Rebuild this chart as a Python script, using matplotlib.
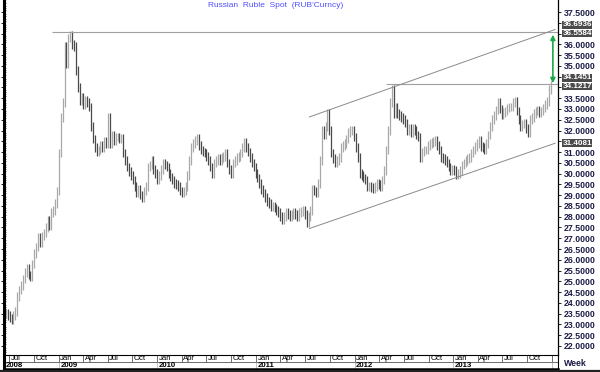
import numpy as np
import pandas as pd
import matplotlib
matplotlib.use("Agg")
import matplotlib.pyplot as plt
import matplotlib.transforms as mtransforms


# =========================================================
# DATA
# =========================================================

START_DATE = "2008-06-20"

# weekly closes
closes = [
    23.5, 23.4, 23.3, 23.2, 23.4, 23.6, 24.3, 24.6, 24.8, 25.1,
    25.4, 25.6, 25.3, 25.2, 25.8, 26.3, 26.6, 27.05, 26.8, 27.1,
    27.25, 27.5, 27.85, 27.6, 28.2, 28.3, 28.6, 29.2, 30.95, 32.6,
    33.3, 35.9, 35.1, 36.3, 36.4, 36.0, 35.9, 34.8, 34.0, 33.4,
    33.55, 33.2, 33.4, 33.3, 33.1, 32.2, 31.6, 31.2, 31.0, 31.1,
    31.3, 31.2, 31.5, 31.4, 32.6, 31.4, 31.8, 31.55, 31.7, 31.7,
    31.6, 31.65, 30.95, 30.6, 30.3, 30.1, 29.9, 29.7, 29.4, 29.1,
    29.25, 29.0, 28.9, 29.2, 29.4, 30.3, 30.4, 30.6, 30.2, 30.0,
    29.7, 29.9, 30.2, 30.5, 30.4, 30.3, 30.0, 29.85, 29.7, 29.55,
    29.5, 29.4, 29.2, 29.1, 29.2, 29.4, 29.9, 30.6, 31.2, 31.4,
    31.55, 31.65, 31.3, 31.1, 31.0, 30.95, 30.8, 30.6, 30.3, 30.0,
    30.5, 30.6, 30.7, 30.6, 30.75, 30.8, 30.95, 30.5, 30.2, 30.0,
    30.5, 30.6, 30.75, 30.8, 30.95, 31.2, 31.45, 31.2, 31.0, 30.75,
    30.5, 30.3, 30.0, 29.8, 29.55, 29.25, 29.1, 28.9, 28.7, 28.6,
    28.45, 28.5, 28.4, 28.3, 28.2, 28.0, 27.85, 28.0, 28.2, 28.1,
    28.0, 28.1, 28.2, 28.1, 28.0, 28.2, 28.25, 28.3, 28.1, 27.7,
    28.0, 28.3, 29.25, 29.2, 29.1, 29.55, 30.6, 32.0, 31.8, 32.2,
    32.8, 32.0, 30.95, 30.7, 30.5, 30.6, 30.75, 31.2, 31.3, 31.4,
    31.6, 31.9, 32.0, 32.0, 31.7, 31.2, 30.75, 30.0, 29.9, 29.8,
    29.7, 29.4, 29.4, 29.35, 29.3, 29.4, 29.55, 29.5, 29.4, 29.7,
    30.15, 31.1, 32.0, 33.3, 33.9, 32.8, 33.1, 32.8, 32.7, 32.6,
    32.5, 32.35, 32.0, 32.1, 31.9, 32.1, 32.0, 31.8, 31.7, 30.75,
    31.0, 31.1, 31.1, 31.3, 31.4, 31.45, 31.5, 31.55, 31.3, 31.1,
    30.75, 30.7, 30.6, 30.5, 30.3, 30.15, 30.2, 30.15, 29.95, 30.0,
    30.15, 30.4, 30.5, 30.6, 30.7, 30.75, 30.95, 31.1, 31.25, 31.4,
    31.55, 31.25, 31.2, 31.1, 31.4, 31.8, 32.2, 32.5, 32.7, 32.95,
    33.3, 33.0, 32.75, 32.85, 32.9, 33.05, 33.1, 33.1, 33.3, 33.35,
    32.9, 32.5, 32.2, 32.3, 32.35, 32.1, 31.9, 32.5, 32.6, 32.8,
    32.9, 32.95, 32.85, 32.9, 33.05, 33.2, 33.35, 33.9, 34.1,
]

dates = pd.date_range(START_DATE, periods=len(closes), freq="7D")

# levels and lines drawn on the chart
top_level = 36.5584
top_label = 36.6936
mid_level = 34.1451
mid_label = 34.1217
low_label = 31.4081

top_line_start = "2008-12-08"
mid_line_start = "2012-04-28"

channel_dates = ["2011-07-18", "2014-01-12"]
channel_upper = [32.63, 36.69]
channel_lower = [27.45, 31.41]

arrow_date = "2014-01-04"
arrow_top = 36.45
arrow_bottom = 34.2

x_left = "2008-06-13"
x_right = "2014-01-23"


# =========================================================
# FIGURE
# =========================================================

plt.rcParams["font.family"] = ["Liberation Sans", "DejaVu Sans"]

W, H = 600, 372
fig = plt.figure(figsize=(6.0, 3.72), dpi=100)

ax = fig.add_axes([4 / W, (H - 355) / H, 554 / W, 355 / H])

# OHLC-style bars (open = previous close)
prev = [closes[0]] + closes[:-1]
wick = 0.2
for d, o, c in zip(dates, prev, closes):
    lo = min(o, c) - wick
    hi = max(o, c) + wick
    col = "#4a4a4a" if c < o else "#a8a8a8"
    ax.vlines(d, lo, hi, color=col, linewidth=0.9)

xr = pd.Timestamp(x_right)

# horizontal levels
ax.hlines(top_level, pd.Timestamp(top_line_start), xr,
          color="#a0a0a0", linewidth=0.8)
ax.hlines(mid_level, pd.Timestamp(mid_line_start), xr,
          color="#a0a0a0", linewidth=0.8)

# channel
cd = pd.to_datetime(channel_dates)
ax.plot(cd, channel_upper, color="#8a8a8a", linewidth=0.7)
ax.plot(cd, channel_lower, color="#8a8a8a", linewidth=0.7)

# green double arrow
ax.annotate(
    "",
    xy=(pd.Timestamp(arrow_date), arrow_bottom),
    xytext=(pd.Timestamp(arrow_date), arrow_top),
    arrowprops=dict(arrowstyle="<|-|>", color="#1ea84a",
                    linewidth=1.2, mutation_scale=7,
                    shrinkA=0, shrinkB=0),
)

ax.set_xlim(pd.Timestamp(x_left), xr)
ax.set_ylim(21.58, 38.06)

# axes styling
ax.spines["top"].set_visible(False)
ax.spines["bottom"].set_visible(False)
ax.spines["left"].set_linewidth(2.2)
ax.spines["right"].set_linewidth(0.9)
ax.set_xticks([])

yt = np.arange(22.0, 37.51, 0.5)
hidden = [37.0, 36.5, 34.5, 34.0, 31.5]
ax.set_yticks(yt)
ax.set_yticklabels(["" if round(v, 1) in hidden else f"{v:.4f}" for v in yt])
ax.set_yticks(np.arange(21.6, 38.0, 0.1), minor=True)
ax.tick_params(axis="y", which="major", left=True, right=True,
               labelleft=False, labelright=True, direction="out",
               length=2.5, width=0.6, pad=1.5,
               labelsize=6.3, labelcolor="#1c1c48")
ax.tick_params(axis="y", which="minor", left=True, right=False,
               direction="in", length=1.5, width=0.4)
for lab in ax.get_yticklabels():
    lab.set_fontweight("bold")

# value boxes on the right axis
trans = mtransforms.blended_transform_factory(ax.transAxes, ax.transData)
for val, yy in [(top_label, 36.9), (top_level, 36.5),
                (mid_level, 34.45), (mid_label, 34.04),
                (low_label, 31.42)]:
    ax.text(1.008, yy, f"{val:.4f}", transform=trans, ha="left",
            va="center", fontsize=5.9, color="white", fontweight="bold",
            bbox=dict(boxstyle="square,pad=0.03", facecolor="#4a4a4a",
                      edgecolor="none"))

# title
ax.text(0.49, 0.993, "Russian  Ruble  Spot  (RUB'Curncy)",
        transform=ax.transAxes, ha="center", va="top",
        fontsize=6, color="#5050ff")


# =========================================================
# DATE LABEL ROWS
# =========================================================

ax2 = fig.add_axes([4 / W, 3 / H, 554 / W, 14 / H], sharex=ax)
ax2.set_ylim(0, 2)
ax2.set_xticks([])
ax2.set_yticks([])
for s in ["top", "right"]:
    ax2.spines[s].set_linewidth(0.8)
ax2.spines["left"].set_linewidth(2.2)
ax2.spines["bottom"].set_linewidth(1.8)
ax2.axhline(1, color="#555555", linewidth=0.6)

month_names = {1: "Jan", 4: "Apr", 7: "Jul", 10: "Oct"}
quarters = pd.date_range("2008-07-01", "2014-01-01", freq="QS")
for q in quarters:
    ax2.vlines(q, 1, 2, color="#555555", linewidth=0.6)
    if q < pd.Timestamp("2014-01-01"):
        ax2.text(q + pd.Timedelta(days=6), 1.5, month_names[q.month],
                 ha="left", va="center", fontsize=5.6, color="black")

for yr in range(2008, 2015):
    if yr > 2008:
        ax2.vlines(pd.Timestamp(f"{yr}-01-01"), 0, 1,
                   color="#aaaaaa", linewidth=0.5)
    if yr < 2014:
        xs = pd.Timestamp(f"{yr}-01-01") if yr > 2008 else pd.Timestamp(x_left)
        ax2.text(xs + pd.Timedelta(days=6), 0.5, str(yr), ha="left",
                 va="center", fontsize=5.6, fontweight="bold", color="black")

fig.text(575 / W, 1 - 363 / H, "Week", ha="center", va="center",
         fontsize=6.3, fontweight="bold", color="#1c1c48")

# outer bottom border
fig.add_artist(plt.Line2D([0, 1], [1.5 / H, 1.5 / H], color="#222222",
                          linewidth=1.6))

fig.savefig("out.png", dpi=100)
